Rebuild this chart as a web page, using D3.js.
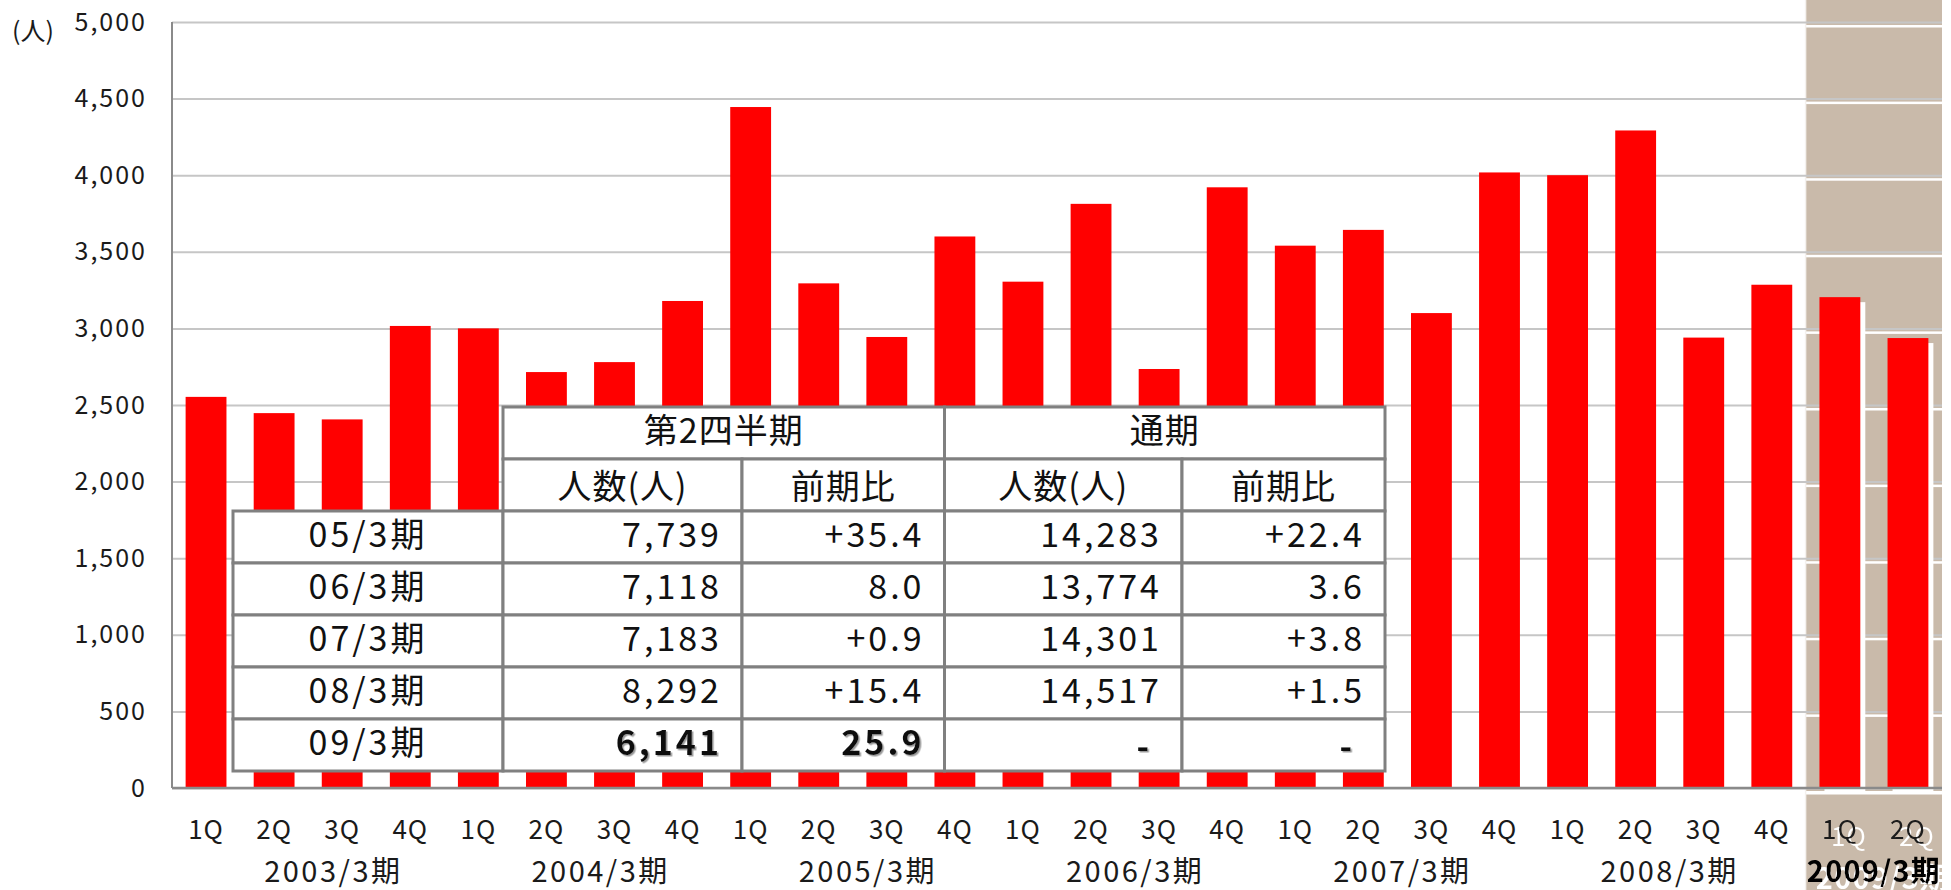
<!DOCTYPE html>
<html>
<head>
<meta charset="utf-8">
<script src="https://cdn.jsdelivr.net/npm/d3@7/dist/d3.min.js"></script>
<style>
  body { margin: 0; background: #fff; }
  svg { display: block; font-family: "Noto Sans CJK JP", "Noto Sans", sans-serif; }
</style>
</head>
<body>
<svg id="chart" width="1951" height="890"></svg>
<script>
// quarterly hires (人), 2003/3期 1Q .. 2009/3期 2Q
const quarters = ["1Q","2Q","3Q","4Q","1Q","2Q","3Q","4Q","1Q","2Q","3Q","4Q",
                  "1Q","2Q","3Q","4Q","1Q","2Q","3Q","4Q","1Q","2Q","3Q","4Q","1Q","2Q"];
const fiscalYears = ["2003/3期","2004/3期","2005/3期","2006/3期","2007/3期","2008/3期","2009/3期"];
const hires = [2553, 2447, 2406, 3016,
               3000, 2715, 2780, 3179,
               4445, 3294, 2944, 3600,
               3305, 3813, 2735, 3921,
               3540, 3643, 3100, 4018,
               4000, 4292, 2940, 3285,
               3204, 2937];
const yTicks = [0, 500, 1000, 1500, 2000, 2500, 3000, 3500, 4000, 4500, 5000];

// summary table
const tableGroups = ["第2四半期", "通期"];
const tableHeads = ["人数(人)", "前期比", "人数(人)", "前期比"];
const tableRows = ["05/3期", "06/3期", "07/3期", "08/3期", "09/3期"];
const q2Count = ["7,739", "7,118", "7,183", "8,292", "6,141"];
const q2Change = ["+35.4", "8.0", "+0.9", "+15.4", "25.9"];
const fyCount = ["14,283", "13,774", "14,301", "14,517", "-"];
const fyChange = ["+22.4", "3.6", "+3.8", "+1.5", "-"];

const RED = "#ff0000";
const BEIGE = "#c9baaa";
const AXIS = "#8a8a8a";

let svg = d3.select("#chart");

let left = 172, right = 1942;
let x = d3.scaleBand().domain(d3.range(hires.length)).range([left, right])
    .paddingInner(0.4).paddingOuter(0.2);
let y = d3.scaleLinear().domain([0, 5000]).range([788, 22]);
let cx = i => x(i) + x.bandwidth() / 2;

let defs = svg.append("defs");
defs.append("filter").attr("id", "soft")
    .append("feDropShadow")
    .attr("dx", 1.5).attr("dy", 1.5).attr("stdDeviation", 0.6)
    .attr("flood-color", "#9a9a9a");

// white offset copy behind the text of the highlighted period
let ghost = defs.append("filter").attr("id", "ghost")
    .attr("x", "-20%").attr("y", "-20%").attr("width", "160%").attr("height", "160%");
ghost.append("feOffset").attr("in", "SourceAlpha").attr("dx", 9).attr("dy", 7).attr("result", "off");
ghost.append("feFlood").attr("flood-color", "#fff").attr("result", "white");
ghost.append("feComposite").attr("in", "white").attr("in2", "off").attr("operator", "in").attr("result", "shade");
let merge = ghost.append("feMerge");
merge.append("feMergeNode").attr("in", "shade");
merge.append("feMergeNode").attr("in", "SourceGraphic");

// highlighted current period (last two quarters)
let hlX = x(24) - x.step() * 0.2;
let hl = svg.append("g");
hl.append("rect")
    .attr("x", hlX).attr("y", 0)
    .attr("width", right - hlX).attr("height", 890)
    .attr("fill", BEIGE);
hl.selectAll("rect.sep")
    .data(yTicks.slice(1))
    .enter().append("rect").classed("sep", true)
    .attr("x", hlX).attr("width", right - hlX)
    .attr("y", d => y(d) + 3).attr("height", 2.5)
    .attr("fill", "#fff");
hl.append("rect")
    .attr("x", hlX).attr("width", right - hlX)
    .attr("y", y(0) + 3).attr("height", 3.5)
    .attr("fill", "#fff");
hl.append("rect")
    .attr("x", hlX - 1).attr("width", 1.5)
    .attr("y", 0).attr("height", 890)
    .attr("fill", "#f4f1ee");

// y axis + grid
let yAxis = svg.append("g")
    .attr("transform", "translate(" + left + ",0)")
    .call(d3.axisLeft(y).tickValues(yTicks)
          .tickSizeInner(-(right - left)).tickSizeOuter(0)
          .tickPadding(25).tickFormat(d3.format(",")));
yAxis.select(".domain").remove();
yAxis.selectAll(".tick line").attr("stroke", "#c6c6c6").attr("stroke-width", 2);
yAxis.selectAll(".tick text")
    .attr("font-size", 25).attr("letter-spacing", 2)
    .attr("fill", "#1a1a1a")
    .attr("font-family", "\"Noto Sans CJK JP\", sans-serif");

svg.append("text")
    .attr("x", 12).attr("y", 40)
    .attr("font-size", 25).attr("fill", "#1a1a1a")
    .text("(人)");

svg.append("line")
    .attr("x1", left).attr("x2", left)
    .attr("y1", y(5000)).attr("y2", y(0))
    .attr("stroke", AXIS).attr("stroke-width", 2);

// bars
let bars = svg.append("g");
bars.selectAll("rect.shadow")
    .data(hires.map((v, i) => ({v, i})).filter(d => d.i >= 24))
    .enter().append("rect").classed("shadow", true)
    .attr("x", d => x(d.i) + 5)
    .attr("y", d => y(d.v) + 5)
    .attr("width", x.bandwidth())
    .attr("height", d => y(0) - y(d.v))
    .attr("fill", "#fff");
bars.selectAll("rect.bar")
    .data(hires)
    .enter().append("rect").classed("bar", true)
    .attr("x", (d, i) => x(i))
    .attr("y", d => y(d))
    .attr("width", x.bandwidth())
    .attr("height", d => y(0) - y(d))
    .attr("fill", RED);

svg.append("line")
    .attr("x1", left).attr("x2", right)
    .attr("y1", y(0)).attr("y2", y(0))
    .attr("stroke", AXIS).attr("stroke-width", 2.5);

// quarter labels
let qLab = svg.append("g").attr("font-size", 26).attr("text-anchor", "middle");
quarters.forEach((q, i) => {
    qLab.append("text").attr("x", cx(i)).attr("y", 839)
        .attr("fill", "#1a1a1a").attr("letter-spacing", 1)
        .attr("filter", i >= 24 ? "url(#ghost)" : null)
        .text(q);
});

// fiscal year labels
let groupCenter = g => {
    let idx = d3.range(g * 4, Math.min(g * 4 + 4, hires.length));
    return d3.mean(idx, cx);
};
let yearX = d3.scaleLinear().domain([0, 5])
    .range([groupCenter(0) + x.step() * 0.37, groupCenter(5)]);
let yLab = svg.append("g").attr("text-anchor", "middle");
fiscalYears.forEach((f, g) => {
    let last = g === fiscalYears.length - 1;
    yLab.append("text")
        .attr("x", last ? groupCenter(g) : yearX(g)).attr("y", 882)
        .attr("font-size", 29)
        .attr("font-weight", last ? 700 : 400)
        .attr("letter-spacing", last ? 1.2 : 2.5)
        .attr("fill", last ? "#000" : "#1a1a1a")
        .attr("filter", last ? "url(#ghost)" : null)
        .text(f);
});

// summary table
let colX = [233, 503, 742, 944.5, 1182, 1385];
let headTop = 407, headH = 52, bodyTop = 511, rowH = 52;
let tbl = svg.append("g");
let cell = (x0, x1, y0, h) => tbl.append("rect")
    .attr("x", x0).attr("y", y0).attr("width", x1 - x0).attr("height", h)
    .attr("fill", "#fff").attr("stroke", "#808080").attr("stroke-width", 3);

cell(colX[1], colX[3], headTop, headH);
cell(colX[3], colX[5], headTop, headH);
for (let c = 1; c < 5; c++) cell(colX[c], colX[c + 1], headTop + headH, headH);
tableRows.forEach((r, ri) => {
    for (let c = 0; c < 5; c++) cell(colX[c], colX[c + 1], bodyTop + ri * rowH, rowH);
});

let tText = tbl.append("g").attr("font-size", 34).attr("fill", "#111");
tableGroups.forEach((t, k) => {
    tText.append("text")
        .attr("x", (colX[1 + 2 * k] + colX[3 + 2 * k]) / 2).attr("y", headTop + 36)
        .attr("text-anchor", "middle").attr("letter-spacing", 1).text(t);
});
tableHeads.forEach((t, k) => {
    tText.append("text")
        .attr("x", (colX[1 + k] + colX[2 + k]) / 2).attr("y", headTop + headH + 40)
        .attr("text-anchor", "middle").attr("letter-spacing", 1).text(t);
});
let cols = [q2Count, q2Change, fyCount, fyChange];
tableRows.forEach((r, ri) => {
    let base = bodyTop + ri * rowH + 36;
    let bold = ri === tableRows.length - 1;
    tText.append("text")
        .attr("x", (colX[0] + colX[1]) / 2).attr("y", base)
        .attr("text-anchor", "middle").attr("letter-spacing", 3).text(r);
    cols.forEach((col, k) => {
        let v = col[ri];
        let dash = v === "-";
        tText.append("text")
            .attr("x", colX[k + 2] - (dash ? 30 : 20)).attr("y", base + (dash ? 4 : 0))
            .attr("text-anchor", "end").attr("letter-spacing", 3)
            .attr("font-weight", bold ? 700 : 400)
            .attr("filter", bold ? "url(#soft)" : null)
            .text(v);
    });
});
</script>
</body>
</html>
